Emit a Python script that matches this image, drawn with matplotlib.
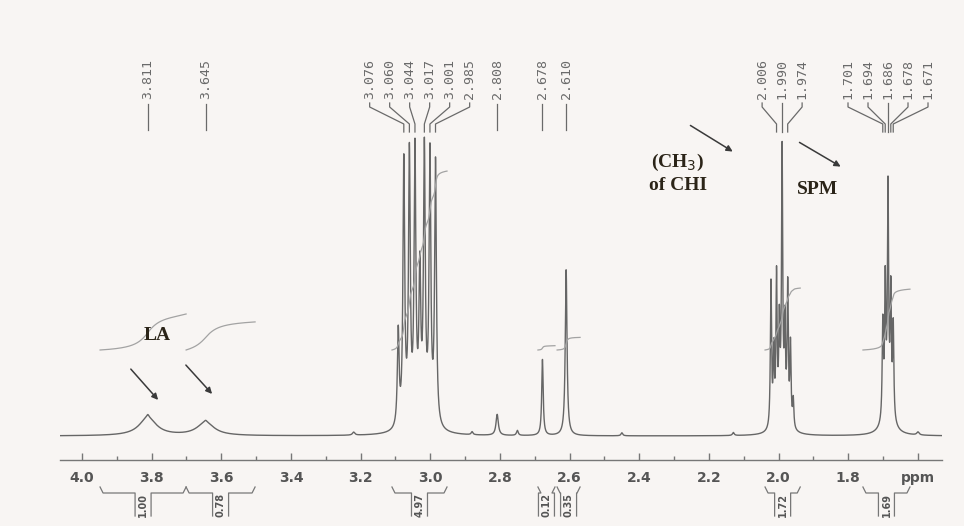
import numpy as np
import matplotlib
matplotlib.use('Agg')
import matplotlib.pyplot as plt
from matplotlib.ticker import FixedLocator, MultipleLocator

# 1H NMR peak list: chemical shift (ppm), amplitude, half width (ppm)
peak_ppm = [3.811, 3.645, 3.811, 3.645,
            3.092, 3.076, 3.060, 3.044, 3.030, 3.017, 3.001, 2.985, 3.030,
            2.808, 2.678, 2.610,
            3.220, 2.880, 2.750, 2.450, 2.130, 1.600,
            2.022, 2.014, 2.006, 1.998, 1.990, 1.982, 1.974, 1.966, 1.958, 1.990,
            1.701, 1.694, 1.686, 1.678, 1.671, 1.686]
peak_height = [18, 13, 3, 2,
               95, 262, 265, 265, 140, 265, 265, 262, 12,
               21, 76, 166,
               3, 3, 5, 3, 3, 3,
               145, 72, 145, 90, 262, 90, 135, 80, 28, 16,
               95, 130, 220, 120, 92, 22]
peak_width = [0.030, 0.030, 0.004, 0.005,
              0.003, 0.003, 0.003, 0.003, 0.003, 0.003, 0.003, 0.003, 0.030,
              0.004, 0.0025, 0.003,
              0.004, 0.003, 0.003, 0.003, 0.003, 0.004,
              0.002, 0.002, 0.002, 0.002, 0.002, 0.002, 0.002, 0.002, 0.002, 0.016,
              0.002, 0.002, 0.002, 0.002, 0.002, 0.016]

# peak picking labels printed above the spectrum (grouped as printed)
label_groups = [[3.811], [3.645],
                [3.076, 3.060, 3.044, 3.017, 3.001, 2.985],
                [2.808], [2.678], [2.610],
                [2.006, 1.990, 1.974],
                [1.701, 1.694, 1.686, 1.678, 1.671]]

# integration regions and values
int_left = [3.948, 3.701, 3.110, 2.691, 2.636, 2.039, 1.758]
int_right = [3.701, 3.503, 2.952, 2.642, 2.570, 1.938, 1.623]
int_value = [1.00, 0.78, 4.97, 0.12, 0.35, 1.72, 1.69]

tick_values = [4.0, 3.8, 3.6, 3.4, 3.2, 3.0, 2.8, 2.6, 2.4, 2.2, 2.0, 1.8, 1.6]
tick_labels = ['4.0', '3.8', '3.6', '3.4', '3.2', '3.0', '2.8', '2.6', '2.4',
               '2.2', '2.0', '1.8', 'ppm']

X_LEFT, X_RIGHT = 4.063, 1.531
PX = (X_LEFT - X_RIGHT) / 882.0   # ppm per pixel

ppm = np.linspace(X_LEFT, X_RIGHT, 20000)
spec = np.zeros_like(ppm)
for c, h, w in zip(peak_ppm, peak_height, peak_width):
    spec += h / (1 + ((ppm - c) / w) ** 2)

bg = '#f8f5f3'
line_c = '#666666'
fig = plt.figure(figsize=(9.64, 5.26), dpi=100, facecolor=bg)
ax = fig.add_axes([60 / 964, 66 / 526, 882 / 964, 460 / 526])
ax.set_facecolor('none')
ax.set_xlim(X_LEFT, X_RIGHT)
ax.set_ylim(-24, 436)

ax.plot(ppm, spec, color=line_c, lw=1.0)

# integral curves
for l, r, v in zip(int_left, int_right, int_value):
    m = (ppm <= l) & (ppm >= r)
    cs = np.cumsum(spec[m])
    ax.plot(ppm[m], 86 + 36 * v * cs / cs[-1], color='#a3a3a3', lw=0.9)

# integral brackets under the axis
for l, r, v in zip(int_left, int_right, int_value):
    c = (l + r) / 2
    kw = dict(color='#777777', lw=0.9, clip_on=False)
    ax.plot([l, l - 3 * PX, c + 8 * PX, c + 8 * PX], [-51, -57, -57, -80], **kw)
    ax.plot([c - 8 * PX, c - 8 * PX, r + 3 * PX, r], [-80, -57, -57, -51], **kw)
    ax.text(c, -69, '%.2f' % v, rotation=90, ha='center', va='center',
            fontsize=7, fontweight='bold', color='#555555',
            family='DejaVu Sans')

# peak labels with leader lines
for grp in label_groups:
    n = len(grp)
    mid = np.mean(grp)
    for i, v in enumerate(grp):
        xt = mid - (i - (n - 1) / 2) * 20 * PX
        ax.text(xt, 337, '%.3f' % v, rotation=90, ha='center', va='bottom',
                fontsize=9.5, color='#6a6a6a', family='DejaVu Sans Mono')
        if n == 1:
            ax.plot([v, v], [332, 306], color='#6a6a6a', lw=0.9)
        else:
            ax.plot([xt, xt, v, v], [333, 329, 312, 304],
                    color='#6a6a6a', lw=0.9)

# annotations
txt = dict(family='Liberation Serif', fontweight='bold', fontsize=14,
           color='#2b2418', ha='center', va='center')
arr = dict(arrowstyle='-|>', color='#3a3a3a', lw=1.1, mutation_scale=9)
ax.text(3.784, 100, 'LA', **txt)
ax.annotate('', xy=(3.776, 34), xytext=(3.865, 69), arrowprops=arr)
ax.annotate('', xy=(3.621, 40), xytext=(3.707, 73), arrowprops=arr)
ax.text(2.289, 274, r'(CH$_3$)', **txt)
ax.text(2.289, 250, 'of CHI', **txt)
ax.annotate('', xy=(2.125, 283), xytext=(2.260, 312), arrowprops=arr)
ax.text(1.887, 247, 'SPM', **txt)
ax.annotate('', xy=(1.815, 268), xytext=(1.947, 295), arrowprops=arr)

# ppm axis
for s in ['top', 'left', 'right']:
    ax.spines[s].set_visible(False)
ax.spines['bottom'].set_color('#777777')
ax.spines['bottom'].set_linewidth(1.0)
ax.xaxis.set_major_locator(FixedLocator(tick_values))
ax.xaxis.set_minor_locator(MultipleLocator(0.1))
ax.set_xticklabels(tick_labels)
ax.tick_params(axis='x', which='major', direction='in', length=5, width=1,
               color='#777777', pad=8, labelsize=10, labelcolor='#555555')
ax.tick_params(axis='x', which='minor', direction='in', length=3, width=1,
               color='#777777')
for t in ax.get_xticklabels():
    t.set_fontweight('bold')
ax.set_yticks([])

fig.savefig('out.png', dpi=100, facecolor=bg)
